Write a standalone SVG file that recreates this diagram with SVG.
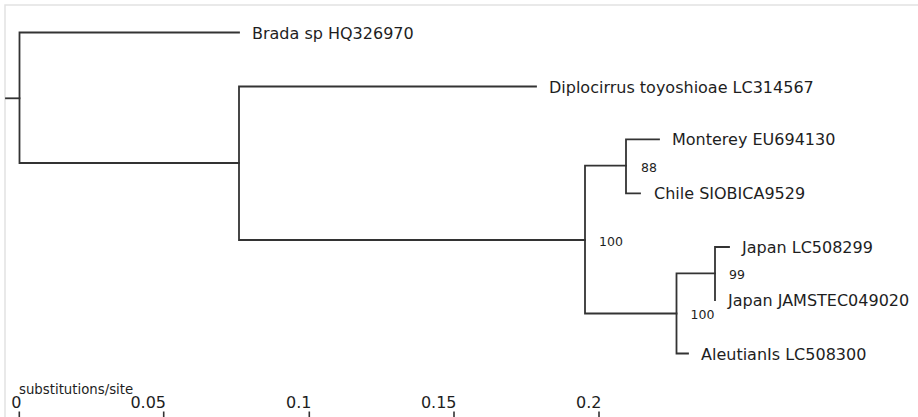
<svg xmlns="http://www.w3.org/2000/svg" width="918" height="417" viewBox="0 0 918 417">
<style>
.frame{stroke:#e2e2e2;stroke-width:1.5;fill:none}
.br{stroke:#333;stroke-width:1.8;fill:none;stroke-linecap:square}
.tax{font-family:"DejaVu Sans",sans-serif;font-size:16px;fill:#1e1e1e}
.bs{font-family:"DejaVu Sans",sans-serif;font-size:12.5px;fill:#1e1e1e}
.ax{font-family:"DejaVu Sans",sans-serif;font-size:16px;fill:#1e1e1e;text-anchor:end}
.axt{font-family:"DejaVu Sans",sans-serif;font-size:13.3px;fill:#1e1e1e}
.tick{stroke:#333;stroke-width:1.6}
</style>
<rect width="918" height="417" fill="#fff"/>
<path class="frame" d="M5,417 V5 H918"/>
<g id="connectors">
<path class="br" d="M6,98.3 H19.5"/>
<path class="br" d="M239,32.5 H19.5 V163 H239"/>
<path class="br" d="M536,86.5 H239 V240 H585"/>
<path class="br" d="M626,165.7 H585 V313.5 H676.5"/>
<path class="br" d="M659,139.3 H626 V193.3 H640"/>
<path class="br" d="M715,273.3 H676.5 V353.5 H688"/>
<path class="br" d="M729,247 H715 V300"/>
</g>
<g id="n-brada"><text class="tax" x="252" y="39">Brada sp HQ326970</text></g>
<g id="n-diplocirrus"><text class="tax" x="549" y="92.5">Diplocirrus toyoshioae LC314567</text></g>
<g id="n-monterey"><text class="tax" x="672" y="145.3">Monterey EU694130</text></g>
<g id="n-chile"><text class="tax" x="654" y="199.3">Chile SIOBICA9529</text></g>
<g id="n-japan1"><text class="tax" x="742" y="253">Japan LC508299</text></g>
<g id="n-japan2"><text class="tax" x="728" y="306">Japan JAMSTEC049020</text></g>
<g id="n-aleutian"><text class="tax" x="701" y="359.5">AleutianIs LC508300</text></g>
<g id="support">
<text class="bs" x="599" y="245.7">100</text>
<text class="bs" x="641" y="171.7">88</text>
<text class="bs" x="729" y="279">99</text>
<text class="bs" x="690.5" y="319.3">100</text>
</g>
<g id="scale">
<text class="axt" x="19" y="394">substitutions/site</text>
<text class="ax" x="21.5" y="407.7">0</text>
<text class="ax" x="166" y="407.7">0.05</text>
<text class="ax" x="311.5" y="407.7">0.1</text>
<text class="ax" x="456.5" y="407.7">0.15</text>
<text class="ax" x="601.5" y="407.7">0.2</text>
<path class="tick" d="M19.3,411.5 V417 M163.7,411.5 V417 M309.3,411.5 V417 M454,411.5 V417 M599,411.5 V417"/>
</g>
</svg>
